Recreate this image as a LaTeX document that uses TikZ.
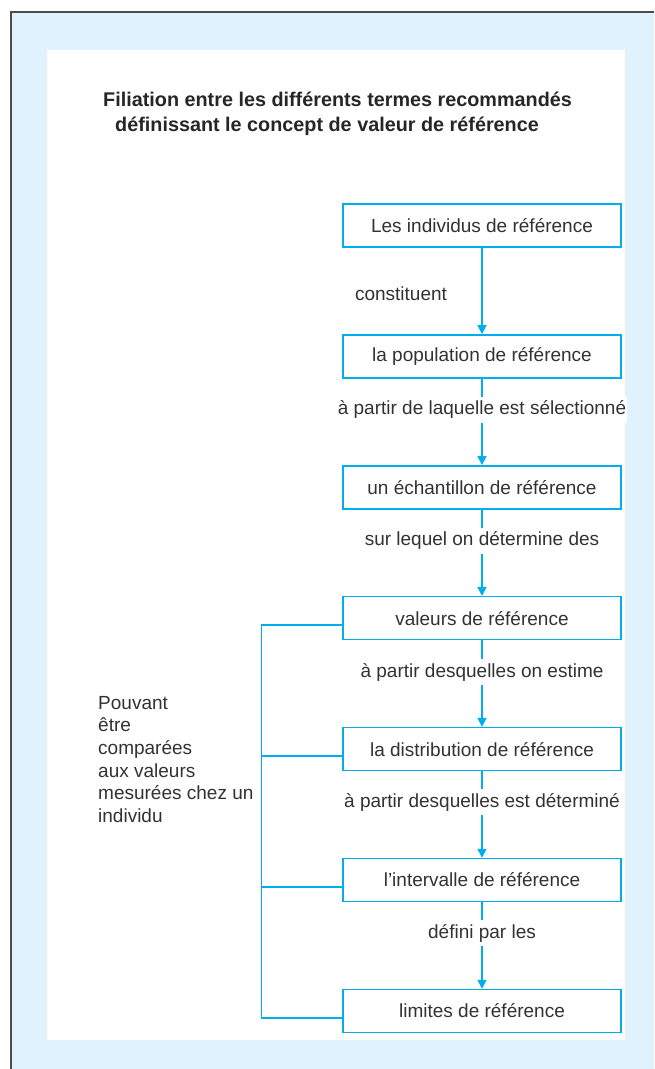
\documentclass[tikz,border=0pt]{standalone}
\usepackage{fontspec}
\setmainfont{Liberation Sans}
\usetikzlibrary{arrows.meta}
\usetikzlibrary{positioning}

\definecolor{cyanfil}{RGB}{0,174,239}
\definecolor{fondbleu}{RGB}{224,242,253}
\definecolor{texte}{RGB}{50,50,50}

\tikzset{
  boite/.style={draw=cyanfil, line width=1.5pt, fill=white, minimum width=278pt,
    minimum height=43pt, inner sep=0pt, text=texte},
  lien/.style={draw=cyanfil, line width=1.5pt},
  fleche/.style={lien, -{Triangle[width=9pt,length=9pt]}},
  etiq/.style={fill=white, inner xsep=0.5pt, inner ysep=4pt, text=texte},
}

\begin{document}
\begin{tikzpicture}[x=1pt,y=-1pt,font=\fontsize{19}{22.6}\selectfont]
  % Frame: light blue page with a white panel
  \useasboundingbox (0,0) rectangle (654,1069);
  \fill[fondbleu] (11,12) rectangle (654,1069);
  \fill[white] (47,50) rectangle (625,1040);
  \draw[black!70, line width=2pt] (11,1069) -- (11,12) -- (654,12);
  % Title
  \node[font=\fontsize{19.8}{25}\selectfont\bfseries, text=black!85, align=left,
    anchor=west, inner sep=0pt] (titre) at (103,113.5)
    {Filiation entre les différents termes recommandés\\
    \hspace*{12pt}définissant le concept de valeur de référence};
  % Boxes, top to bottom
  \node[boite] (indiv)   at (482,225.5) {Les individus de référence};
  \node[boite] (popul)   at (482,356.4) {la population de référence};
  \node[boite] (echant)  at (482,487.3) {un échantillon de référence};
  \node[boite] (valeurs) at (482,618.2) {valeurs de référence};
  \node[boite] (distrib) at (482,749.1) {la distribution de référence};
  \node[boite] (interv)  at (482,880.0) {l’intervalle de référence};
  \node[boite] (limites) at (482,1011)  {limites de référence};
  % Arrows and their labels
  \draw[fleche] (indiv) -- (popul);
  \node[text=texte] (constit) at (401,294) {constituent};
  \draw[fleche] (popul) -- node[etiq, pos=0.36] (selec) {à partir de laquelle est sélectionné} (echant);
  \draw[fleche] (echant) -- node[etiq, pos=0.36] (determ) {sur lequel on détermine des} (valeurs);
  \draw[fleche] (valeurs) -- node[etiq, pos=0.37] (estime) {à partir desquelles on estime} (distrib);
  \draw[fleche] (distrib) -- node[etiq, pos=0.36] (determine) {à partir desquelles est déterminé} (interv);
  \draw[fleche] (interv) -- node[etiq, pos=0.36] (defini) {défini par les} (limites);
  % Bracket on the left
  \foreach \b in {valeurs,distrib,interv,limites}
    \draw[lien, line cap=rect] ([yshift=-7pt]\b.west) -- ++(-81,0);
  \draw[lien, line cap=rect] ([shift={(-81pt,-7pt)}]valeurs.west) -- ([shift={(-81pt,-7pt)}]limites.west);
  \node[anchor=north west, align=left, inner sep=0pt, text=texte] (pouvant) at (98,696)
    {Pouvant\\être\\comparées\\aux valeurs\\mesurées chez un\\individu};
\end{tikzpicture}
\end{document}
